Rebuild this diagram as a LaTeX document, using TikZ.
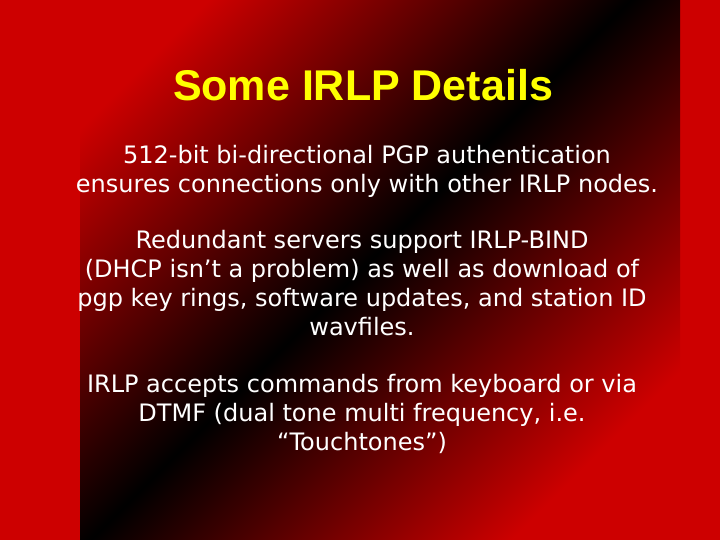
\documentclass[tikz,border=0pt]{standalone}
\usepackage{fontspec}
\setmainfont{DejaVu Sans}
\newfontfamily\titlefont{Liberation Sans}
\definecolor{slred}{RGB}{205,0,0}
\definecolor{slyellow}{RGB}{255,255,0}
\begin{document}
\begin{tikzpicture}[x=1pt,y=-1pt,
  body/.style={text=white,align=center,font=\fontsize{24}{29}\selectfont,inner sep=0pt}]
\useasboundingbox (0,0) rectangle (720,540);
\begin{scope}
\clip (0,0) rectangle (720,540);
\fill[slred] (0,0) rectangle (720,540);
\shade[top color=slred,bottom color=slred,middle color=black,shading angle=45]
 (380,250) ++(-300,-300) rectangle ++(600,600);
\end{scope}
\node[text=slyellow,font=\titlefont\bfseries\fontsize{43}{48}\selectfont] (title) at (363,85) {Some IRLP Details};
\node[body,anchor=north] (p1) at (367,145) {512-bit bi-directional PGP authentication\\ensures connections only with other IRLP nodes.};
\node[body,anchor=north] (p2) at (362,230) {Redundant servers support IRLP-BIND\\(DHCP isn’t a problem) as well as download of\\pgp key rings, software updates, and station ID\\wavfiles.};
\node[body,anchor=north] (p3) at (362,374) {IRLP accepts commands from keyboard or via\\DTMF (dual tone multi frequency, i.e.\\“Touchtones”)};
\end{tikzpicture}
\end{document}
